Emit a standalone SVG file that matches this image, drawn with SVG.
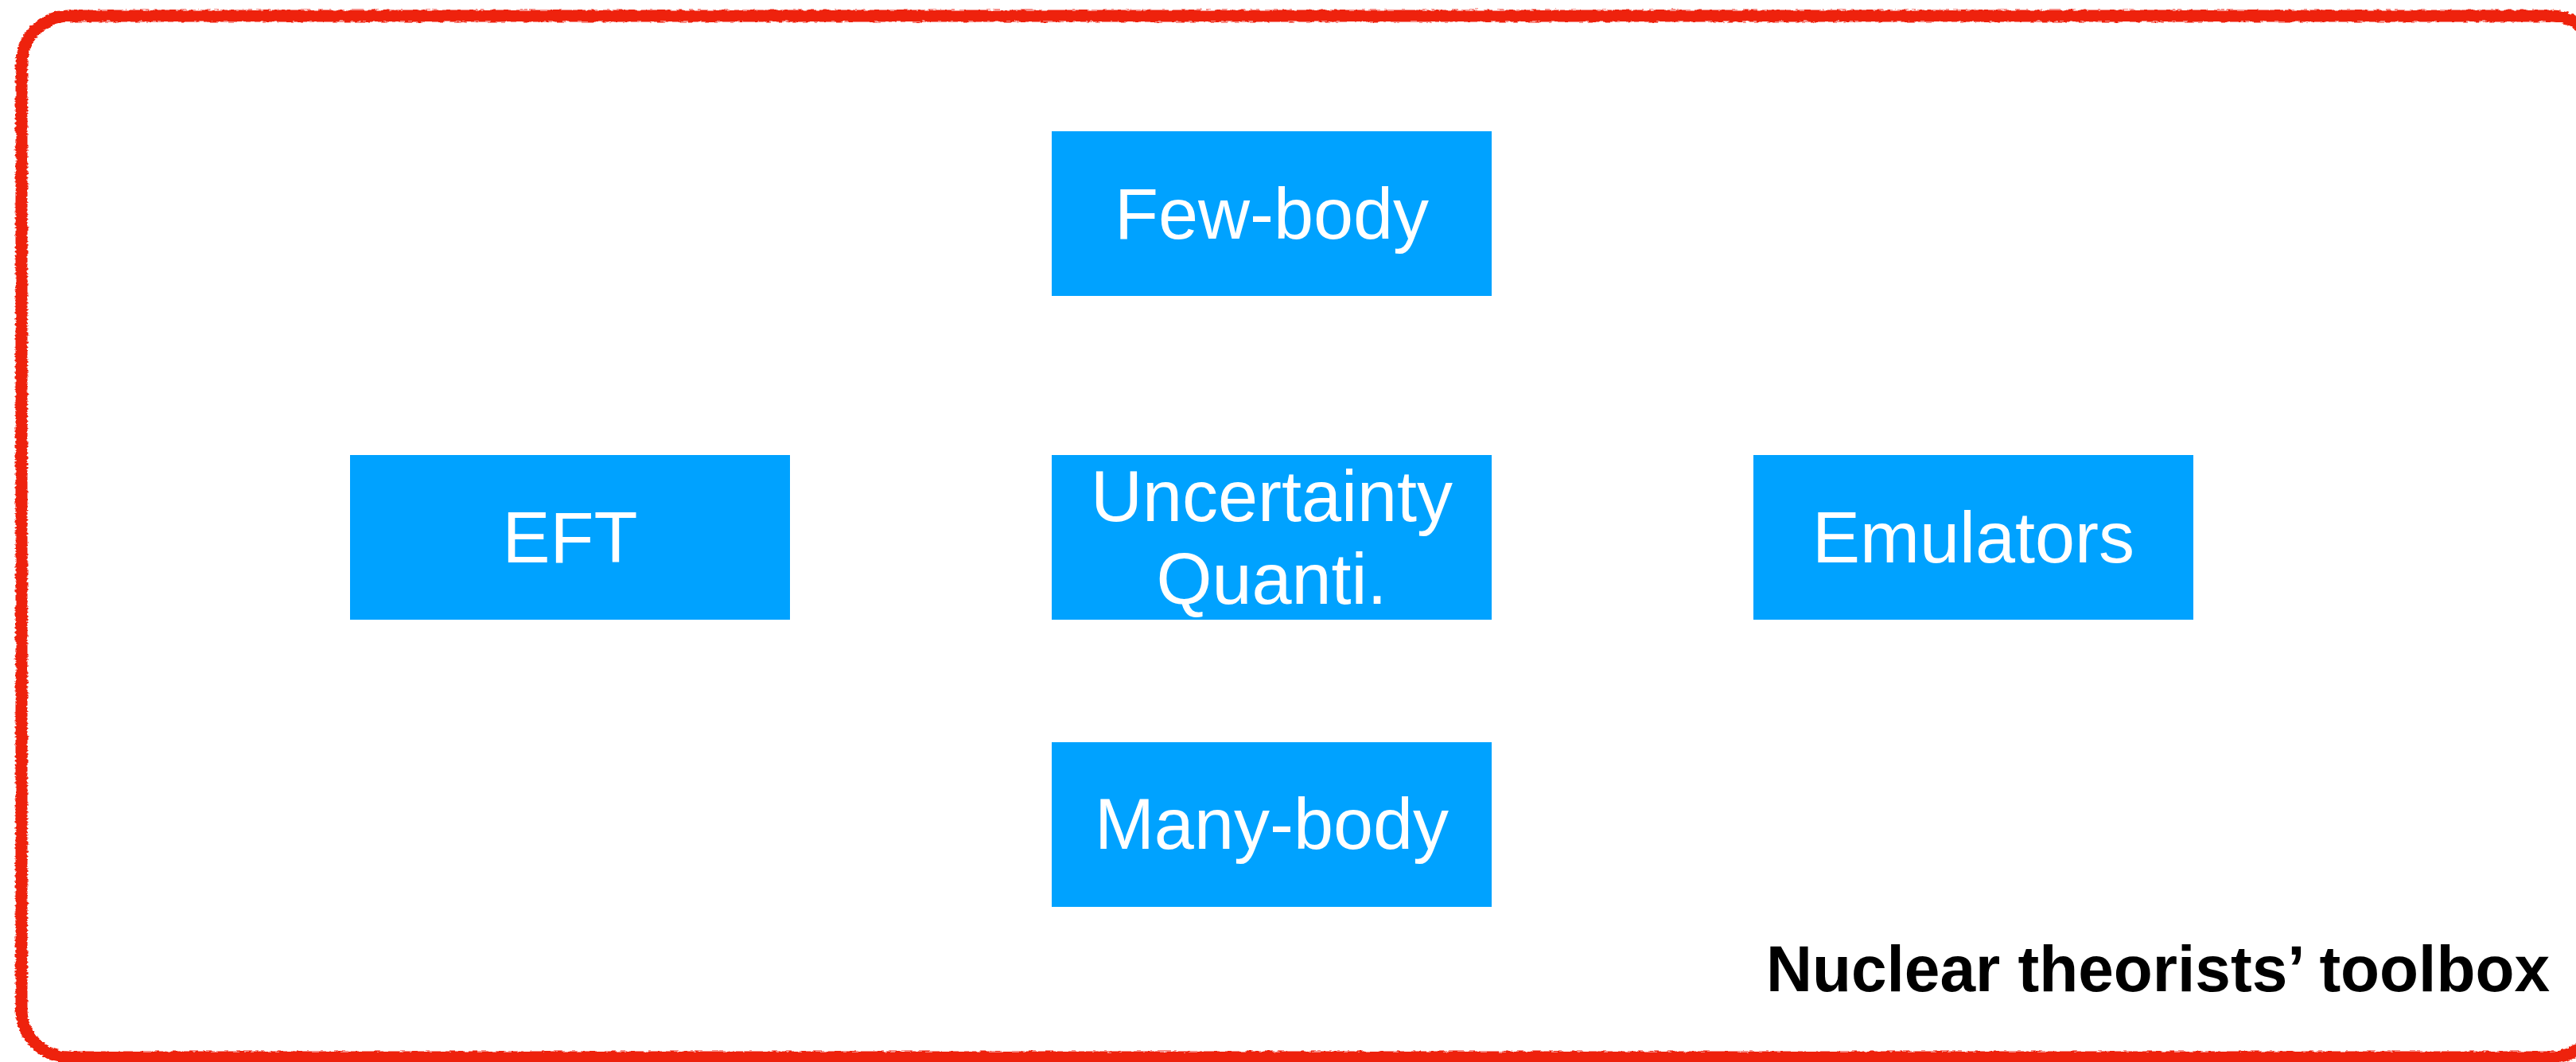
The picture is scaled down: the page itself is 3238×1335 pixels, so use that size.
<svg xmlns="http://www.w3.org/2000/svg" width="3238" height="1335" viewBox="0 0 3238 1335">
  <style>
    .box { fill: #00A2FF; }
    .lbl { font-family: "Liberation Sans", Arial, sans-serif; font-size: 90px; fill: #FFFFFF; text-anchor: middle; }
    .title { font-family: "Liberation Sans", Arial, sans-serif; font-size: 82px; font-weight: bold; fill: #000000; text-anchor: end; }
    .frame { fill: none; stroke: #EE230F; stroke-width: 15; }
  </style>
  <defs>
    <filter id="rough" x="-2%" y="-2%" width="104%" height="104%">
      <feTurbulence type="fractalNoise" baseFrequency="0.12 0.4" numOctaves="2" seed="3" result="n"/>
      <feDisplacementMap in="SourceGraphic" in2="n" scale="5" xChannelSelector="R" yChannelSelector="G"/>
    </filter>
  </defs>
  <rect width="3238" height="1335" fill="#FFFFFF"/>
  <g id="frame">
    <rect class="frame" x="27" y="20" width="3240" height="1309" rx="60" ry="60" filter="url(#rough)"/>
  </g>
  <g id="connectors"></g>
  <g id="few-body">
    <rect class="box" x="1322" y="165" width="553" height="207"/>
    <text class="lbl" x="1598.5" y="300">Few-body</text>
  </g>
  <g id="eft">
    <rect class="box" x="440" y="572" width="553" height="207"/>
    <text class="lbl" x="716.5" y="707">EFT</text>
  </g>
  <g id="uq">
    <rect class="box" x="1322" y="572" width="553" height="207"/>
    <text class="lbl" x="1598.5" y="655">Uncertainty</text>
    <text class="lbl" x="1598.5" y="759">Quanti.</text>
  </g>
  <g id="emulators">
    <rect class="box" x="2204" y="572" width="553" height="207"/>
    <text class="lbl" x="2480.5" y="707">Emulators</text>
  </g>
  <g id="many-body">
    <rect class="box" x="1322" y="933" width="553" height="207"/>
    <text class="lbl" x="1598.5" y="1067">Many-body</text>
  </g>
  <g id="title">
    <text class="title" x="3205" y="1246" textLength="985" lengthAdjust="spacingAndGlyphs">Nuclear theorists’ toolbox</text>
  </g>
</svg>
